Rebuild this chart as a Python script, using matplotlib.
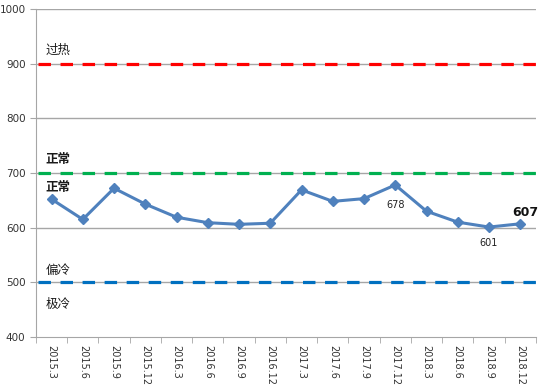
import matplotlib
matplotlib.use("Agg")
import matplotlib.pyplot as plt

plt.rcParams['font.family'] = ['DejaVu Sans', 'Noto Sans CJK SC']

# data
periods = ["2015.3", "2015.6", "2015.9", "2015.12", "2016.3", "2016.6", "2016.9", "2016.12",
           "2017.3", "2017.6", "2017.9", "2017.12", "2018.3", "2018.6", "2018.9", "2018.12"]
values = [652, 615, 672, 643, 619, 609, 606, 608, 669, 648, 653, 678, 630, 610, 601, 607]

thresholds = [900, 700, 500]
threshold_colors = ["#FF0000", "#00B050", "#0070C0"]

zone_labels = ["过热", "正常", "正常", "偏冷", "极冷"]
zone_label_y = [925, 725, 674, 521, 460]
zone_label_weight = ["normal", "bold", "bold", "normal", "normal"]

fig = plt.figure(figsize=(5.53, 3.86), dpi=100)
ax = fig.add_axes([0.065, 0.127, 0.904, 0.85])

x = list(range(len(periods)))

# gridlines
for v in range(500, 1001, 100):
    ax.axhline(v, color="#A6A6A6", lw=1, zorder=1)

# threshold dashed lines
for t, c in zip(thresholds, threshold_colors):
    ax.axhline(t, color=c, lw=2.3, ls=(0, (3.9, 3.0)), zorder=2, xmin=0.004)

ax.plot(x, values, color="#4F81BD", lw=2.2, marker="D", markersize=5.5, zorder=3)

# zone labels
for lab, yv, w in zip(zone_labels, zone_label_y, zone_label_weight):
    ax.text(-0.2, yv, lab, fontsize=9, va="center", ha="left", fontweight=w,
            family=['Noto Sans CJK SC', 'DejaVu Sans'], color="#1a1a1a")

# data labels
ax.text(11, 641, "678", fontsize=7, ha="center", va="center", color="#222222")
ax.text(14, 572, "601", fontsize=7, ha="center", va="center", color="#222222")
ax.text(15.15, 627, "607", fontsize=9, fontweight="bold", ha="center", va="center", color="#111111")

ax.set_xlim(-0.5, len(periods) - 0.5)
ax.set_ylim(400, 1000)
ax.set_yticks(range(400, 1001, 100))
ax.set_xticks(x)
ax.set_xticklabels(periods, rotation=270, fontsize=7, color="#333333")
ax.set_xticks([i - 0.5 for i in range(len(periods) + 1)], minor=True)
ax.tick_params(axis="x", which="major", length=0, pad=6)
ax.tick_params(axis="x", which="minor", length=4, color="#A6A6A6")
ax.tick_params(axis="y", length=4, color="#A6A6A6", labelsize=7.5, labelcolor="#333333")

for s in ["top", "right"]:
    ax.spines[s].set_visible(False)
for s in ["left", "bottom"]:
    ax.spines[s].set_color("#A6A6A6")

fig.savefig("out.png", dpi=100)
